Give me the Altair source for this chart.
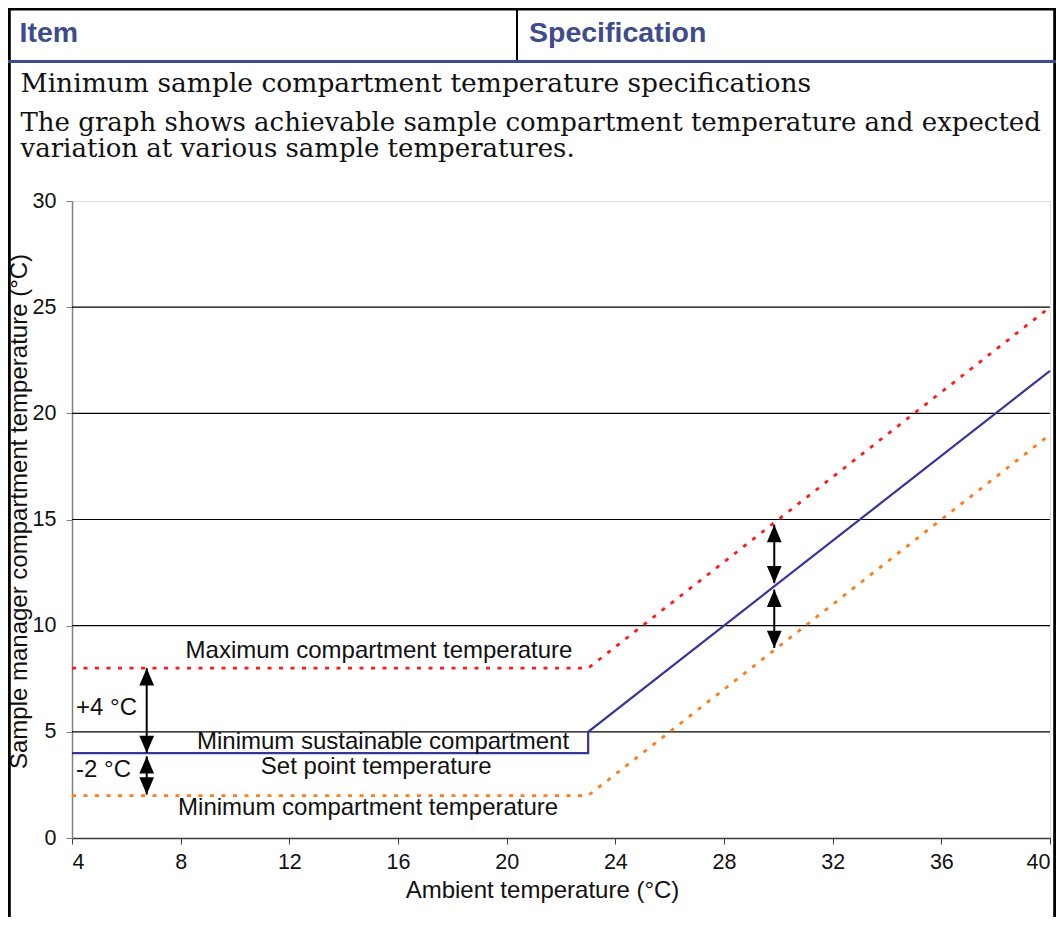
import altair as alt
import pandas as pd

# ---- data ----
ambient_max = [4, 23, 40]
temp_max = [8, 8, 25]
ambient_set = [4, 23, 23, 40]
temp_set = [4, 4, 5, 22]
ambient_min = [4, 23, 40]
temp_min = [2, 2, 19]

grid_values = [5, 10, 15, 20, 25]
x_ticks = [4, 8, 12, 16, 20, 24, 28, 32, 36, 40]
y_ticks = [0, 5, 10, 15, 20, 25, 30]

arrow_x = [6.75, 6.75, 29.85, 29.85]
arrow_top = [8, 3.85, 14.75, 11.7]
arrow_bottom = [4, 2.05, 12.0, 8.95]

center_text = ["Maximum compartment temperature", "Minimum sustainable compartment",
               "Set point temperature", "Minimum compartment temperature"]
center_x = [15.3, 15.45, 15.2, 14.9]
center_y = [8.8, 4.5, 3.35, 1.4]
delta_text = ["+4 °C", "-2 °C"]
delta_x = [4.15, 4.15]
delta_y = [6.1, 3.2]

header_text = ["Item", "Specification"]
para_text = ["Minimum sample compartment temperature specifications",
             "The graph shows achievable sample compartment temperature and expected",
             "variation at various sample temperatures."]

# ---- tables ----
rows = []
for i, (a, t) in enumerate(zip(ambient_max, temp_max)):
    rows.append({"series": "max", "ambient": a, "temp": t, "order": i})
for i, (a, t) in enumerate(zip(ambient_set, temp_set)):
    rows.append({"series": "set", "ambient": a, "temp": t, "order": i})
for i, (a, t) in enumerate(zip(ambient_min, temp_min)):
    rows.append({"series": "min", "ambient": a, "temp": t, "order": i})
lines_df = pd.DataFrame(rows)

arrows_df = pd.DataFrame({"x": arrow_x, "top": arrow_top, "bottom": arrow_bottom})
center_df = pd.DataFrame({"text": center_text, "x": center_x, "y": center_y})
delta_df = pd.DataFrame({"text": delta_text, "x": delta_x, "y": delta_y})
grid_df = pd.DataFrame({"y": grid_values})
one = pd.DataFrame({"k": [0]})

FONT = "Liberation Sans"
xs = alt.Scale(domain=[4, 40], nice=False)
ys = alt.Scale(domain=[0, 30], nice=False)

x_axis = alt.Axis(values=x_ticks, title="Ambient temperature (°C)", grid=False,
                  domainColor="#3a3a3a", tickColor="#3a3a3a", tickSize=6, domainWidth=1.5,
                  labelFont=FONT, labelFontSize=21.5, labelColor="#111", labelPadding=7,
                  titleFont=FONT, titleFontSize=24, titleFontWeight="normal", titleColor="#111",
                  titleX=470, titleY=59, titleAlign="center", titleBaseline="alphabetic")
y_axis = alt.Axis(values=y_ticks, title="Sample manager compartment temperature (°C)", grid=False,
                  domainColor="#808080", tickColor="#808080", tickSize=6, domainWidth=1.5,
                  labelFont=FONT, labelFontSize=21.5, labelColor="#111", labelPadding=10,
                  titleFont=FONT, titleFontSize=24, titleFontWeight="normal", titleColor="#111",
                  titleX=-53, titleY=310, titleAlign="center", titleBaseline="middle", titleAngle=270)

grid = alt.Chart(grid_df).mark_rule(color="#000", strokeWidth=1.2).encode(
    y=alt.Y("y:Q", scale=ys, axis=y_axis))

base_line = alt.Chart(lines_df).encode(
    x=alt.X("ambient:Q", scale=xs, axis=x_axis),
    y=alt.Y("temp:Q", scale=ys, axis=y_axis),
    order="order:Q")

line_max = base_line.transform_filter(alt.datum.series == "max").mark_line(
    color="#ff1a1a", strokeWidth=2.8, strokeDash=[4, 7.5])
line_min = base_line.transform_filter(alt.datum.series == "min").mark_line(
    color="#ff7a1a", strokeWidth=2.8, strokeDash=[4, 7.5])
line_set = base_line.transform_filter(alt.datum.series == "set").mark_line(
    color="#35359a", strokeWidth=2.2)

shaft = alt.Chart(arrows_df).mark_rule(color="#000", strokeWidth=2).encode(
    x=alt.X("x:Q", scale=xs), y=alt.Y("top:Q", scale=ys), y2="bottom:Q")
head_up = alt.Chart(arrows_df).mark_point(
    shape="M -0.85 2 L 0 0 L 0.85 2 Z", filled=True, color="#000", size=300, opacity=1).encode(
    x=alt.X("x:Q", scale=xs), y=alt.Y("top:Q", scale=ys))
head_down = alt.Chart(arrows_df).mark_point(
    shape="M -0.85 -2 L 0 0 L 0.85 -2 Z", filled=True, color="#000", size=300, opacity=1).encode(
    x=alt.X("x:Q", scale=xs), y=alt.Y("bottom:Q", scale=ys))

labels_c = alt.Chart(center_df).mark_text(font=FONT, fontSize=24, color="#111", baseline="middle",
                                          align="center").encode(
    x=alt.X("x:Q", scale=xs), y=alt.Y("y:Q", scale=ys), text="text:N")
labels_l = alt.Chart(delta_df).mark_text(font=FONT, fontSize=24, color="#111", baseline="middle",
                                         align="left").encode(
    x=alt.X("x:Q", scale=xs), y=alt.Y("y:Q", scale=ys), text="text:N")

# ---- document table decorations (outside plot) ----
def vrule(x, y1, y2, color="#000", w=2.5):
    return alt.Chart(one).mark_rule(color=color, strokeWidth=w).encode(
        x=alt.value(x), y=alt.value(y1), y2=alt.value(y2))

def hrule(y, x1, x2, color="#000", w=2.5):
    return alt.Chart(one).mark_rule(color=color, strokeWidth=w).encode(
        y=alt.value(y), x=alt.value(x1), x2=alt.value(x2))

HEAD = "#3f4c8b"
deco = [
    vrule(-62.6, -193, 716, w=2.8),
    vrule(982.6, -193, 716, w=2.8),
    hrule(-191.8, -64, 984, w=2.6),
    vrule(445, -193, -140, w=2),
    hrule(-139.5, -64, 984, color=HEAD, w=3.2),
]

def text_at(t, x, y, **kw):
    return alt.Chart(one).mark_text(align="left", baseline="alphabetic", **kw).encode(
        x=alt.value(x), y=alt.value(y), text=alt.value(t))

SERIF = "DejaVu Serif"
texts = [
    text_at(header_text[0], -52.5, -159.5, font=FONT, fontSize=28.5, fontWeight="bold", color=HEAD),
    text_at(header_text[1], 457, -159.5, font=FONT, fontSize=28.5, fontWeight="bold", color=HEAD),
    text_at(para_text[0], -51.5, -109, font=SERIF, fontSize=26.5, color="#111"),
    text_at(para_text[1], -51.5, -70.5, font=SERIF, fontSize=26, color="#111"),
    text_at(para_text[2], -51.5, -44, font=SERIF, fontSize=26, color="#111"),
]

chart = alt.layer(grid, line_min, line_max, line_set, shaft, head_up, head_down, labels_c, labels_l,
                  *deco, *texts).properties(
    width=978, height=637,
    autosize=alt.AutoSizeParams(type="none"),
    padding={"left": 64, "top": 193, "right": 6, "bottom": 79},
).configure_view(stroke="#a8a8a8", strokeWidth=1.5).configure(background="white")

chart.save("out.html", embed_options={"renderer": "svg", "actions": False})
